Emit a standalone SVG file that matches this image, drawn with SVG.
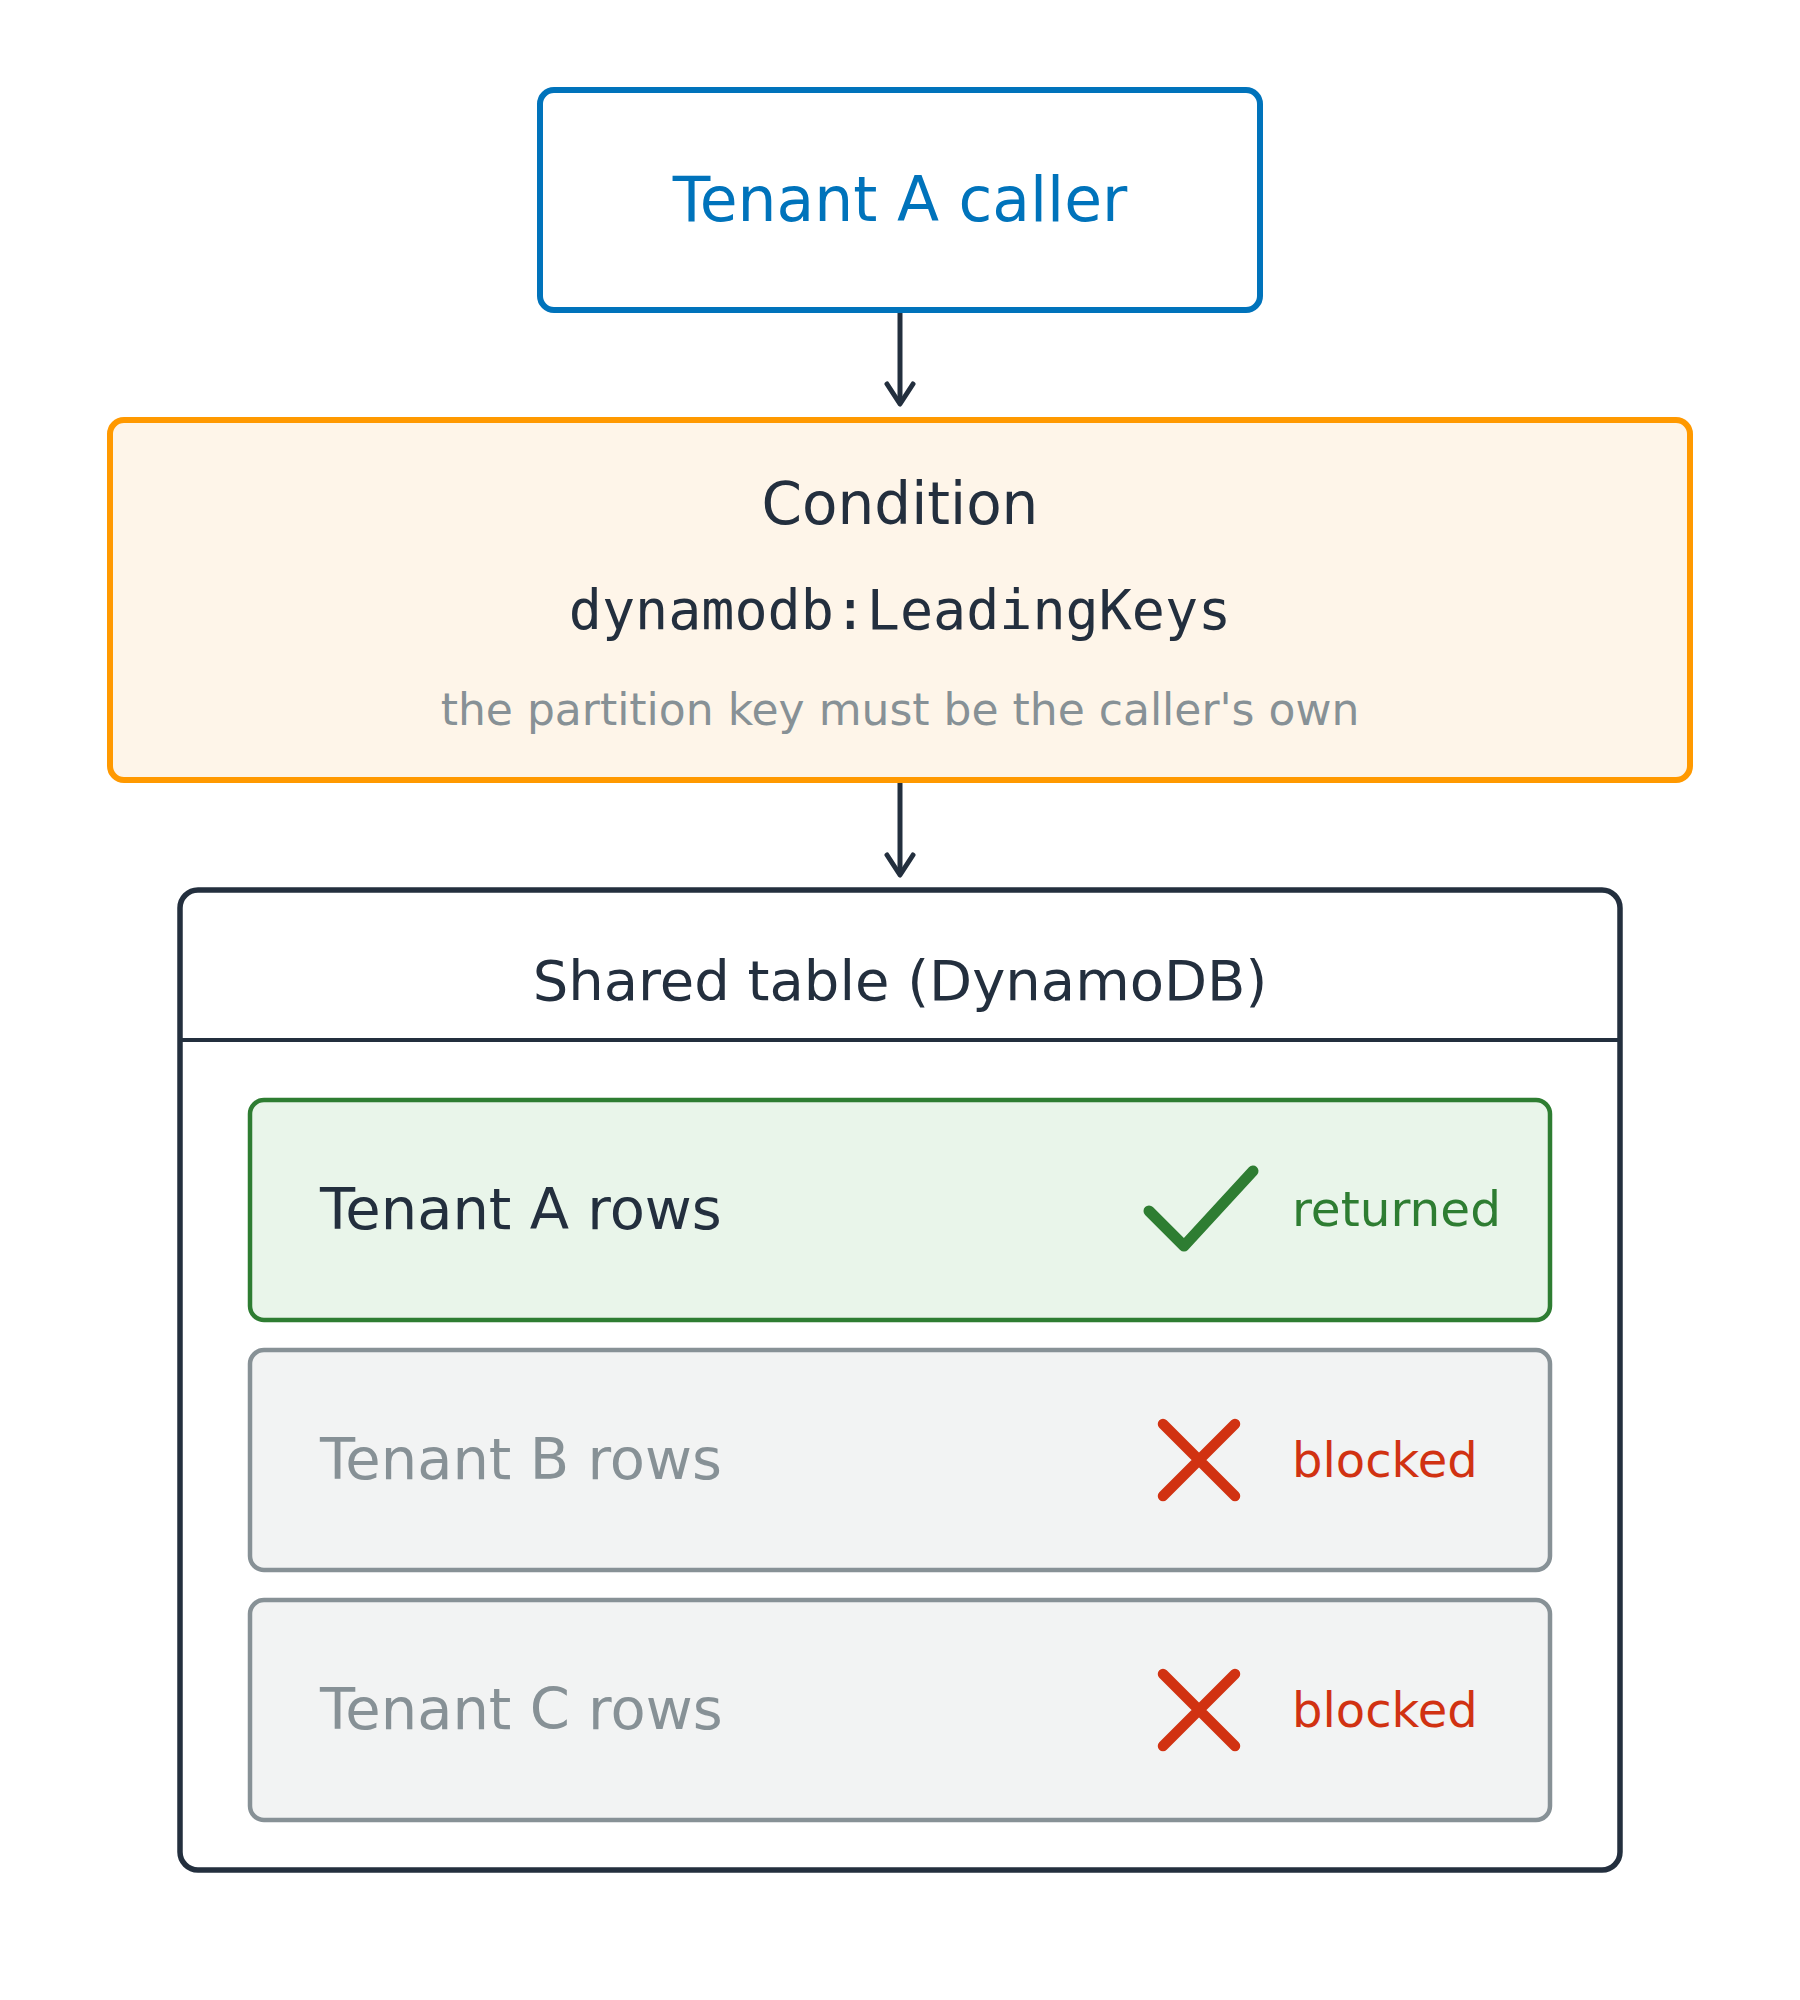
<svg xmlns="http://www.w3.org/2000/svg" width="1800" height="2000" viewBox="0 0 1800 2000">
  <style>
    .t { font-family: "DejaVu Sans", "Noto Sans", sans-serif; }
    .mono { font-family: "DejaVu Sans Mono", "Liberation Mono", monospace; }
    .conn { stroke: #232F3E; stroke-width: 5; fill: none; }
    .row-ok { fill: #E9F5EA; stroke: #2E7D32; stroke-width: 4.5; }
    .row-no { fill: #F2F3F3; stroke: #879196; stroke-width: 4.5; }
    .cross { stroke: #D13212; stroke-width: 10.5; stroke-linecap: round; fill: none; }
  </style>
  <defs>
    <marker id="arrow" markerUnits="userSpaceOnUse" viewBox="-30 -20 40 40" refX="0" refY="0" markerWidth="40" markerHeight="40" orient="auto" overflow="visible">
      <path d="M-20,-13 L0,0 L-20,13" fill="none" stroke="#232F3E" stroke-width="5" stroke-linecap="round" stroke-linejoin="round"/>
    </marker>
  </defs>
  <rect width="1800" height="2000" fill="#FFFFFF"/>

  <g id="caller">
    <rect x="540" y="90" width="720" height="220" rx="14" fill="#FFFFFF" stroke="#0073BB" stroke-width="6"/>
    <text class="t" x="900" y="221" font-size="61.5" fill="#0073BB" text-anchor="middle">Tenant A caller</text>
  </g>

  <g id="condition">
    <rect x="110" y="420" width="1580" height="360" rx="14" fill="#FEF5E9" stroke="#FF9900" stroke-width="6"/>
    <text class="t" x="900" y="524" font-size="58" fill="#232F3E" text-anchor="middle">Condition</text>
    <text class="mono" x="900" y="629" font-size="55" fill="#232F3E" text-anchor="middle">dynamodb:LeadingKeys</text>
    <text class="t" x="900" y="725" font-size="44" fill="#879196" text-anchor="middle">the partition key must be the caller's own</text>
  </g>

  <g id="table">
    <rect x="180" y="890" width="1440" height="980" rx="18" fill="#FFFFFF" stroke="#232F3E" stroke-width="5.5"/>
    <line x1="180" y1="1040" x2="1620" y2="1040" stroke="#232F3E" stroke-width="4"/>
    <text class="t" x="900" y="1000" font-size="56" fill="#232F3E" text-anchor="middle">Shared table (DynamoDB)</text>
  </g>

  <g id="row-a">
    <rect class="row-ok" x="250" y="1100" width="1300" height="220" rx="14"/>
    <text class="t" x="320" y="1229" font-size="57.5" fill="#232F3E">Tenant A rows</text>
    <path d="M1149,1211 L1184,1246 L1253,1171" fill="none" stroke="#2E7D32" stroke-width="11" stroke-linecap="round" stroke-linejoin="round"/>
    <text class="t" x="1292" y="1226" font-size="48.5" fill="#2E7D32">returned</text>
  </g>

  <g id="row-b">
    <rect class="row-no" x="250" y="1350" width="1300" height="220" rx="14"/>
    <text class="t" x="320" y="1479" font-size="57.5" fill="#879196">Tenant B rows</text>
    <path class="cross" d="M1163,1424 L1235,1496 M1235,1424 L1163,1496"/>
    <text class="t" x="1292" y="1477" font-size="48" fill="#D13212">blocked</text>
  </g>

  <g id="row-c">
    <rect class="row-no" x="250" y="1600" width="1300" height="220" rx="14"/>
    <text class="t" x="320" y="1729" font-size="57.5" fill="#879196">Tenant C rows</text>
    <path class="cross" d="M1163,1674 L1235,1746 M1235,1674 L1163,1746"/>
    <text class="t" x="1292" y="1727" font-size="48" fill="#D13212">blocked</text>
  </g>

  <g id="connectors">
    <line class="conn" x1="900" y1="313" x2="900" y2="404" marker-end="url(#arrow)"/>
    <line class="conn" x1="900" y1="783" x2="900" y2="875" marker-end="url(#arrow)"/>
  </g>
</svg>
